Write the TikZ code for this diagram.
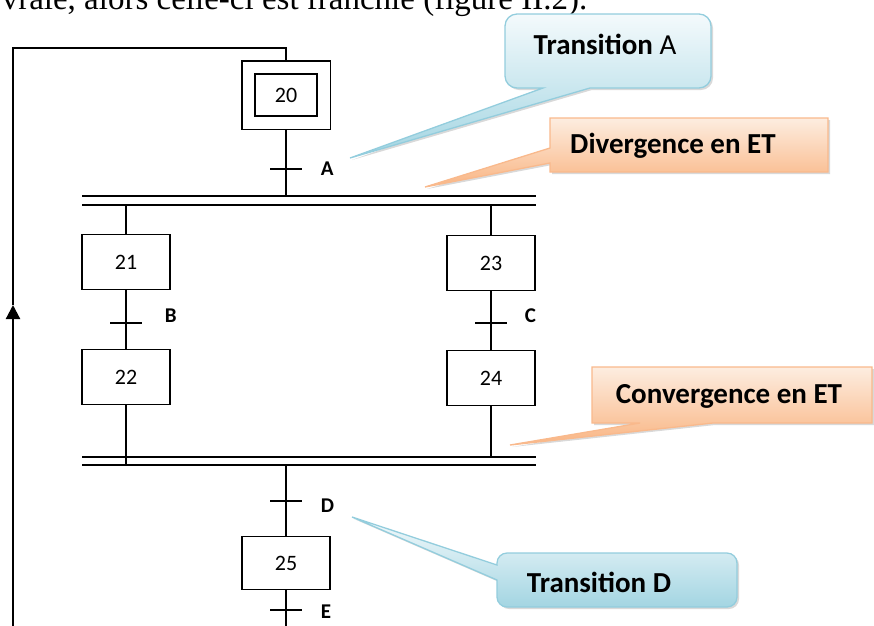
\documentclass[tikz,border=0pt]{standalone}
\usepackage{fontspec}
\setmainfont{Carlito}
\newfontfamily\textefont{Liberation Serif}
\usetikzlibrary{fit,shadows,arrows.meta}
\definecolor{bleuBord}{HTML}{93CDDD}
\definecolor{bleuHaut}{HTML}{F4FAFC}
\definecolor{bleuBas}{HTML}{A3D5E2}
\definecolor{orangeBord}{HTML}{F9B98C}
\definecolor{orangeHaut}{HTML}{FDEDE0}
\definecolor{orangeBas}{HTML}{F9B583}
\begin{document}
\begin{tikzpicture}[x=1pt,y=-1pt,line width=1.6pt,
	etape/.style={draw, line width=1.3pt, minimum width=88pt, minimum height=55pt, inner sep=0pt, font=\fontsize{22}{26}\selectfont},
	recept/.style={anchor=west, inner sep=0pt, font=\bfseries\fontsize{21}{24}\selectfont},
	bulleB/.style={draw=bleuBord, line width=1.3pt, top color=bleuHaut, bottom color=bleuBas, drop shadow={opacity=0.3, shadow xshift=2pt, shadow yshift=-2pt}},
	bulleO/.style={draw=orangeBord, line width=1.3pt, top color=orangeHaut, bottom color=orangeBas, drop shadow={opacity=0.3, shadow xshift=2pt, shadow yshift=-2pt}},
	bulletxt/.style={inner sep=0pt, font=\fontsize{29}{33}\selectfont}]
		\useasboundingbox (0,0) rectangle (874,625);
		\begin{scope}
			\clip (0,0) rectangle (874,625);
			\node [anchor=base east, inner sep=0pt, font=\textefont\fontsize{33}{38}\selectfont] (phrase) at (588,9) {est vraie, alors celle-ci est franchie (figure II.2).};
		\end{scope}
		% etapes
		\node [etape, minimum width=62pt, minimum height=42pt] (e20) at (286,95) {20};
		\node [draw, line width=1.3pt, fit=(e20), inner sep=12.5pt] (e20o) {};
		\foreach \n/\x/\y in {21/126/262, 22/126/377, 23/491/263, 24/491/378}
			\node [etape] (e\n) at (\x,\y) {\n};
		\node [etape, minimum height=53pt] (e25) at (286,563) {25};
		% transitions
		\foreach \t/\x/\y in {A/286/169, B/126/323, C/491/323, D/286/501, E/286/610}
			\coordinate (t\t) at (\x,\y);
		\foreach \t/\x/\y in {A/320/169, B/164/316, C/524/316, D/320/506, E/320/612}
			\node [recept] (r\t) at (\x,\y) {\t};
		% double barres
		\coordinate (divG1) at (82,196); \coordinate (divD1) at (536,196);
		\coordinate (divG2) at (82,205); \coordinate (divD2) at (536,205);
		\coordinate (conG1) at (82,457); \coordinate (conD1) at (536,457);
		\coordinate (conG2) at (82,465); \coordinate (conD2) at (536,465);
		\draw (divG1) -- (divD1);
		\draw (divG2) -- (divD2);
		\draw (conG1) -- (conD1);
		\draw (conG2) -- (conD2);
		% liaisons
		\draw (e20o.south) -- (e20o.south |- divG1);
		\draw (e21.north) -- (e21.north |- divG2);
		\draw (e23.north) -- (e23.north |- divG2);
		\draw (e21) -- (e22);
		\draw (e23) -- (e24);
		\draw (e22.south) -- (e22.south |- conG2);
		\draw (e24.south) -- (e24.south |- conG1);
		\draw (e25.north |- conG2) -- (e25.north);
		\coordinate (bas) at (286,630);
		\draw (e25.south) -- (bas);
		\foreach \t in {A,B,C,D,E}
			\draw (t\t) ++(-16,0) -- ++(32,0);
		% retour
		\coordinate (depart) at (13,630);
		\coordinate (retour) at (13,305);
		\coordinate (haut) at (13,48);
		\draw [line width=2.2pt, -{Triangle[length=14pt,width=14pt]}] (depart) -- (retour);
		\draw (retour) -- (haut) -| (e20o.north);
		% bulles
		\path [bulleB] (543,88) [rounded corners=12pt] -- (505,88) -- (505,14) -- (711,14) -- (711,88) [sharp corners] -- (590,88) -- (350,158) -- cycle;
		\path [bulleO] (550,148) -- (550,118) -- (828,118) -- (828,172) -- (550,172) -- (550,163) -- (425,187) -- cycle;
		\path [bulleO] (640,423) -- (592,423) -- (592,367) -- (872,367) -- (872,423) -- (713,423) -- (510,445) -- cycle;
		\path [bulleB] (497,580) [rounded corners=10pt] -- (497,607) -- (737,607) -- (737,553) -- (497,553) [sharp corners] -- (497,565) -- (352,517) -- cycle;
		\node [bulletxt] (bA) at (605,44) {\textbf{Transition} A};
		\node [bulletxt] (bDiv) at (673,146) {\textbf{Divergence en ET}};
		\node [bulletxt] (bCon) at (729,396) {\textbf{Convergence en ET}};
		\node [bulletxt] (bD) at (599,582) {\textbf{Transition D}};
\end{tikzpicture}
\end{document}
